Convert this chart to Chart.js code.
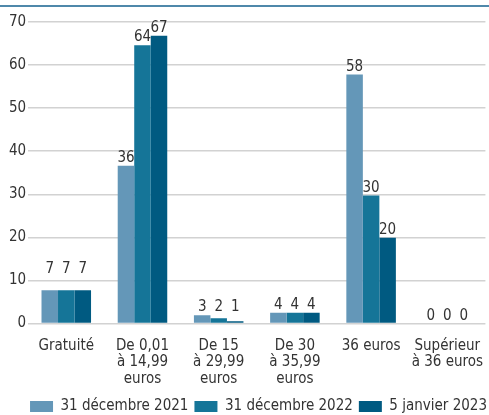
<!DOCTYPE html>
<html>
<head>
<meta charset="utf-8">
<script src="https://cdn.jsdelivr.net/npm/chart.js@4"></script>
<style>
  html, body { margin: 0; padding: 0; background: #fff; }
  #wrap { position: relative; width: 489px; height: 415px; }
</style>
</head>
<body>
<div id="wrap"><canvas id="chart"></canvas></div>
<script>
const categories = [
  "Gratuité",
  ["De 0,01", "à 14,99", "euros"],
  ["De 15", "à 29,99", "euros"],
  ["De 30", "à 35,99", "euros"],
  "36 euros",
  ["Supérieur", "à 36 euros"]
];
const seriesNames = ["31 décembre 2021", "31 décembre 2022", "5 janvier 2023"];

// bar heights as drawn in the picture
const dec2021 = [7.7, 36.6, 1.9, 2.5, 57.8, 0];
const dec2022 = [7.7, 64.6, 1.2, 2.5, 29.7, 0];
const jan2023 = [7.7, 66.8, 0.5, 2.5, 19.9, 0];

// numbers printed above the bars
const dec2021Labels = ["7", "36", "3", "4", "58", "0"];
const dec2022Labels = ["7", "64", "2", "4", "30", "0"];
const jan2023Labels = ["7", "67", "1", "4", "20", "0"];

const yTicks = [0, 10, 20, 30, 40, 50, 60, 70];

const colors = ["#6497b8", "#157598", "#005a81"];
const textColor = "#333333";
const fontFamily = "'DejaVu Sans', sans-serif";
// "weight" slot is used to squeeze in a condensed stretch
const narrow = "normal condensed";

const allLabels = [dec2021Labels, dec2022Labels, jan2023Labels];

// thin blue rule across the top
const topRule = {
  id: "topRule",
  beforeDraw(chart) {
    const ctx = chart.ctx;
    ctx.save();
    ctx.strokeStyle = "#4f88aa";
    ctx.lineWidth = 2;
    ctx.beginPath();
    ctx.moveTo(0, 6);
    ctx.lineTo(chart.width, 6);
    ctx.stroke();
    ctx.restore();
  }
};

// value labels above the bars
const barLabels = {
  id: "barLabels",
  afterDatasetsDraw(chart, args, opts) {
    const ctx = chart.ctx;
    const yScale = chart.scales.y;
    ctx.save();
    ctx.font = narrow + " 15px " + fontFamily;
    ctx.fillStyle = textColor;
    ctx.textAlign = "center";
    ctx.textBaseline = "alphabetic";
    chart.data.datasets.forEach((ds, i) => {
      const meta = chart.getDatasetMeta(i);
      meta.data.forEach((bar, j) => {
        let groupMax = 0;
        chart.data.datasets.forEach(d => { groupMax = Math.max(groupMax, d.data[j]); });
        let y = groupMax < 10 ? yScale.getPixelForValue(groupMax) : bar.y;
        y -= 4 + (opts.lift[j] || 0);
        ctx.fillText(allLabels[i][j], bar.x, y);
      });
    });
    ctx.restore();
  }
};

new Chart(document.getElementById("chart"), {
  type: "bar",
  data: {
    labels: categories,
    datasets: [
      { label: seriesNames[0], data: dec2021, backgroundColor: colors[0] },
      { label: seriesNames[1], data: dec2022, backgroundColor: colors[1] },
      { label: seriesNames[2], data: jan2023, backgroundColor: colors[2] }
    ]
  },
  options: {
    responsive: true,
    maintainAspectRatio: false,
    animation: false,
    layout: { padding: { top: 22, right: -4, left: 7, bottom: -9 } },
    datasets: { bar: { categoryPercentage: 0.65, barPercentage: 1 } },
    scales: {
      x: {
        grid: { display: false },
        border: { display: false },
        ticks: {
          color: textColor,
          font: { family: fontFamily, size: 15, weight: narrow, lineHeight: 1.1 },
          padding: 6,
          maxRotation: 0,
          autoSkip: false
        }
      },
      y: {
        min: 0,
        max: 70,
        afterBuildTicks(axis) { axis.ticks = yTicks.map(v => ({ value: v })); },
        grid: { color: "#d2d2d2", lineWidth: 1.5, drawTicks: false },
        border: { display: false },
        ticks: {
          color: textColor,
          font: { family: fontFamily, size: 15, weight: narrow },
          padding: 2
        }
      }
    },
    plugins: {
      legend: {
        position: "bottom",
        align: "end",
        labels: {
          color: textColor,
          font: { family: fontFamily, size: 15, weight: narrow },
          boxWidth: 23,
          boxHeight: 11,
          padding: 6
        }
      },
      tooltip: { enabled: false },
      barLabels: { lift: [13, 0, 0, 0, 0, 0] }
    }
  },
  plugins: [topRule, barLabels]
});
</script>
</body>
</html>
